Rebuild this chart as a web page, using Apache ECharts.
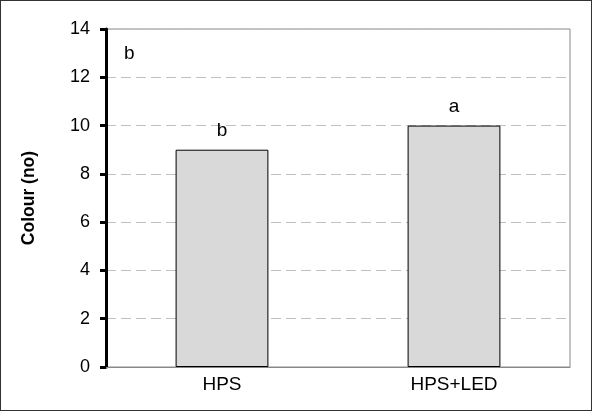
<!DOCTYPE html>
<html><head><meta charset="utf-8">
<script src="https://cdn.jsdelivr.net/npm/echarts@6/dist/echarts.min.js"></script>
<style>html,body{margin:0;padding:0;background:#fff}#c{width:592px;height:411px;box-sizing:border-box;border:1px solid #333}</style>
</head><body><div id="c"></div>
<script>
const categories = ['HPS', 'HPS+LED'];
const values = [9, 10];
const letters = ['b', 'a'];
const cornerLetter = 'b';
const yTicks = [0, 2, 4, 6, 8, 10, 12, 14];

const chart = echarts.init(document.getElementById('c'));
const font = '"Liberation Sans", Arial, sans-serif';
chart.setOption({
  animation: false,
  grid: { left: 105, right: 21, top: 28, bottom: 43, show: true, borderColor: '#888', borderWidth: 1, backgroundColor: 'transparent' },
  xAxis: {
    type: 'category', data: categories,
    axisLine: { lineStyle: { color: '#888', width: 1 } },
    axisTick: { show: false },
    axisLabel: { color: '#000', fontSize: 19, fontFamily: font, margin: 8 }
  },
  yAxis: {
    type: 'value', min: yTicks[0], max: yTicks[yTicks.length - 1], interval: 2,
    name: 'Colour (no)', nameLocation: 'middle', nameGap: 68,
    nameTextStyle: { color: '#000', fontSize: 17.5, fontWeight: 'bold', fontFamily: font },
    axisLine: { show: true, lineStyle: { color: '#000', width: 3 } },
    axisTick: { show: true, inside: false, length: 6, lineStyle: { color: '#000', width: 3 } },
    axisLabel: { color: '#000', fontSize: 18, fontFamily: font, margin: 16 },
    splitLine: { show: true, lineStyle: { color: '#c0c0c0', type: [10, 5], width: 1 } }
  },
  series: [{
    type: 'bar', data: values, barWidth: '40%',
    itemStyle: { color: '#d9d9d9', borderColor: '#000', borderWidth: 1 },
    label: { show: true, position: 'top', distance: 9, color: '#000', fontSize: 19, fontFamily: font,
      formatter: p => letters[p.dataIndex] }
  }],
  graphic: [{
    type: 'text', left: 123, top: 43,
    style: { text: cornerLetter, fill: '#000', fontSize: 19, fontFamily: font }
  }]
});
</script></body></html>
